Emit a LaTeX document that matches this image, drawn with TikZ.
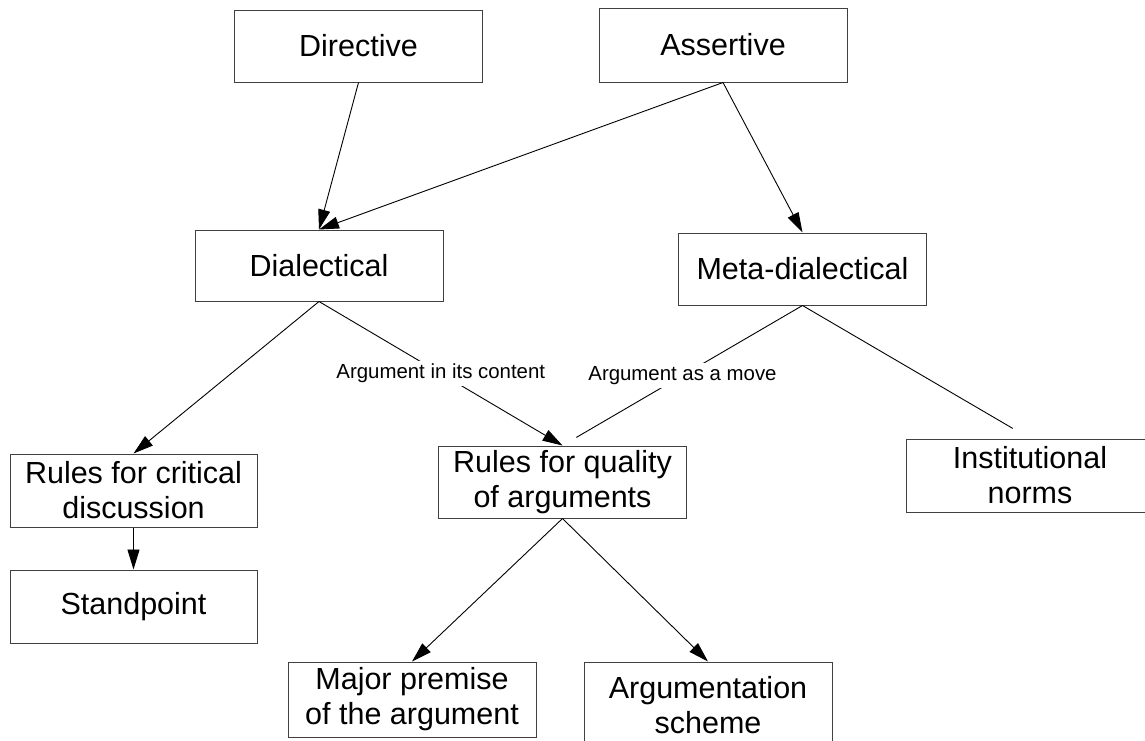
\documentclass[tikz,border=0pt]{standalone}
\usepackage{fontspec}
\setmainfont{Liberation Sans}
\usetikzlibrary{arrows.meta}

\begin{document}
\begin{tikzpicture}[x=1pt, y=-1pt,
  box/.style={draw=black!75, line width=1pt, minimum width=248pt, minimum height=72pt,
    align=center, inner sep=0pt, font=\fontsize{30.5}{35}\selectfont},
  link/.style={draw=black, line width=0.9pt},
  arr/.style={link, -{Triangle[length=20pt, width=12pt]}},
  lbl/.style={fill=white, inner sep=3pt, font=\fontsize{20.4}{24}\selectfont}]
  \useasboundingbox (0,0) rectangle (1145,740);
  \clip (0,0) rectangle (1145,740);

  % Actes de langage
  \node[box] (directive) at (358.5,46) {Directive};
  \node[box, minimum height=74pt] (assertive) at (723,45) {Assertive};

  % Niveaux
  \node[box, minimum height=71pt] (dial) at (319,265.5) {Dialectical};
  \node[box] (meta) at (802.5,269) {Meta-dialectical};

  % Regles et normes
  \node[box, minimum width=247pt, minimum height=73pt] (rcd) at (133.5,490.5) {Rules for critical\\discussion};
  \node[box, minimum width=247pt, minimum height=73pt] (stand) at (133.5,606.5) {Standpoint};
  \node[box] (rqa) at (562.5,482) {Rules for quality\\of arguments};
  \node[box, minimum height=73pt] (inst) at (1030,475.5) {Institutional\\norms};

  % Bas de la figure
  \node[box, minimum height=75pt] (major) at (412,699.5) {Major premise\\of the argument};
  \node[box, minimum height=86pt] (scheme) at (708,705) {Argumentation\\scheme};

  % Liens
  \draw[arr] (directive.south) -- (dial.north);
  \draw[arr] (assertive.south) -- (dial.north);
  \draw[arr] (assertive.south) -- (meta.north);
  \draw[arr] (dial.south) -- (rcd.north);
  \draw[arr] (dial.south) -- node[lbl] {Argument in its content} (rqa.north);
  \draw[link, shorten >=16pt] (meta.south) -- node[lbl] {Argument as a move} (rqa.north);
  \draw[link, shorten >=20pt] (meta.south) -- (inst.north);
  \draw[arr] (rcd.south) -- (stand.north);
  \draw[arr] (rqa.south) -- (major.north);
  \draw[arr] (rqa.south) -- (scheme.north);
\end{tikzpicture}
\end{document}
